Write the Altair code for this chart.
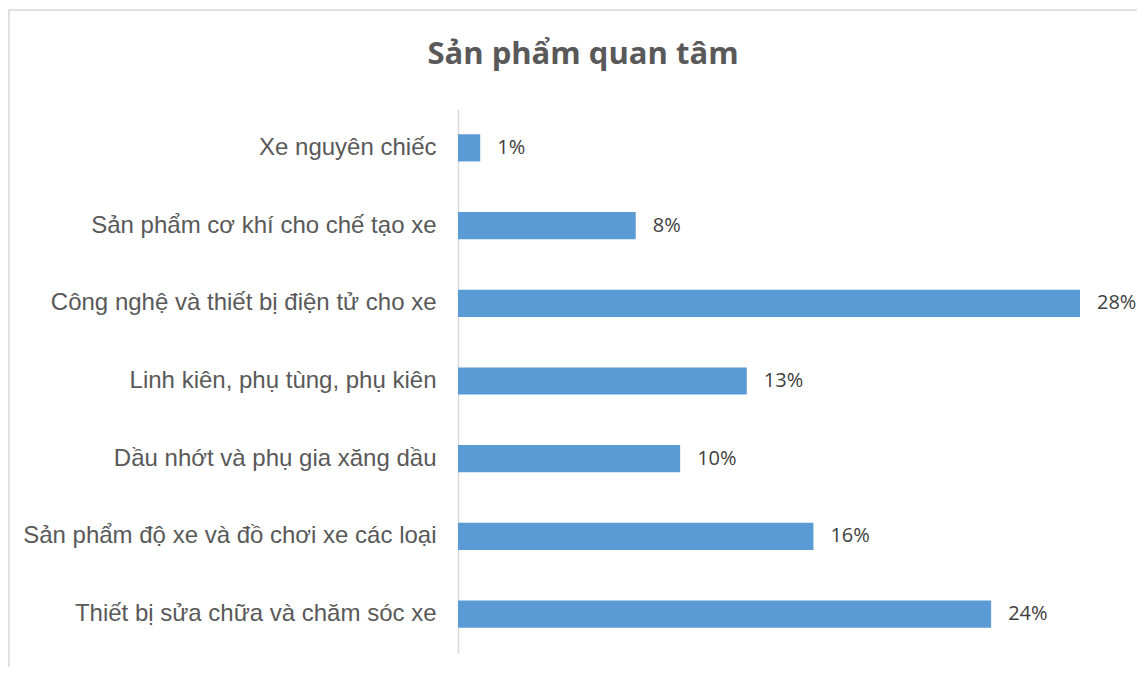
import altair as alt
import pandas as pd

categories = [
    "Xe nguyên chiếc",
    "Sản phẩm cơ khí cho chế tạo xe",
    "Công nghệ và thiết bị điện tử cho xe",
    "Linh kiên, phụ tùng, phụ kiên",
    "Dầu nhớt và phụ gia xăng dầu",
    "Sản phẩm độ xe và đồ chơi xe các loại",
    "Thiết bị sửa chữa và chăm sóc xe",
]
values = [1, 8, 28, 13, 10, 16, 24]
labels = ["1%", "8%", "28%", "13%", "10%", "16%", "24%"]
title_text = "Sản phẩm quan tâm"

df = pd.DataFrame({"cat": categories, "val": values, "lab": labels})

W, H = 622, 544
PL = 450

y_enc = alt.Y(
    "cat:N",
    sort=categories,
    scale=alt.Scale(paddingInner=0.65, paddingOuter=0.325),
    axis=alt.Axis(
        title=None,
        ticks=False,
        domainColor="#d9d9d9",
        domainWidth=1.5,
        labelFont="Liberation Sans",
        labelFontSize=24,
        labelColor="#595959",
        labelPadding=22,
        labelLimit=0,
        grid=False,
    ),
)
x_enc = alt.X("val:Q", scale=alt.Scale(domain=[0, 28], nice=False), axis=None)

bars = alt.Chart(df).mark_bar(color="#5B9BD5").encode(x=x_enc, y=y_enc)

text = alt.Chart(df).mark_text(
    align="left", baseline="middle", dx=17, font="Open Sans", fontSize=20, color="#404040"
).encode(x=x_enc, y=y_enc, text="lab:N")

frame = alt.Chart(pd.DataFrame({"a": [0]})).mark_rect(
    fill=None, stroke="#d9d9d9", strokeWidth=1.5, clip=False
).encode(
    x=alt.value(-449), x2=alt.value(720), y=alt.value(-99), y2=alt.value(600)
)

title = alt.Chart(pd.DataFrame({"t": [title_text]})).mark_text(
    font="Open Sans", fontWeight="bold", fontSize=31, color="#595959",
    align="center", baseline="alphabetic", clip=False
).encode(x=alt.value(583 - 8 - PL), y=alt.value(-45), text="t:N")

chart = alt.layer(frame, bars, text, title).properties(
    width=W, height=H,
    autosize=alt.AutoSizeParams(type="none"),
    padding={"left": PL, "top": 101, "right": 57, "bottom": 14},
).configure_view(stroke=None)

chart.save("out.html", embed_options={"renderer": "svg", "actions": False})
